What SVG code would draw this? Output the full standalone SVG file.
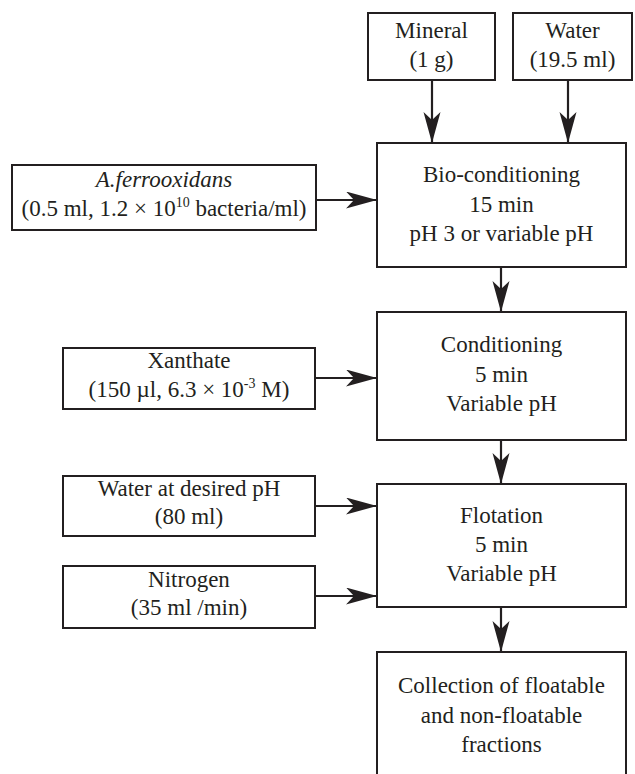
<svg xmlns="http://www.w3.org/2000/svg" width="635" height="774" viewBox="0 0 635 774">
<style>
.box{fill:#fff;stroke:#231f20;stroke-width:2}
.t{font-size:23px;fill:#231f20;text-anchor:middle}
.sup{font-size:14px}
.conn{stroke:#231f20;stroke-width:2.2;fill:none}
</style>
<defs>
<marker id="ah" markerUnits="userSpaceOnUse" markerWidth="32" markerHeight="18" refX="31" refY="8.5" orient="auto">
<path d="M0,0 L31,8.5 L0,17 L8,8.5 Z" fill="#231f20"/>
</marker>
</defs>
<rect width="635" height="774" fill="#fff"/>
<g id="connectors">
<line class="conn" x1="432" y1="80" x2="432" y2="143" marker-end="url(#ah)"/>
<line class="conn" x1="568" y1="80" x2="568" y2="143" marker-end="url(#ah)"/>
<line class="conn" x1="316" y1="200" x2="377" y2="200" marker-end="url(#ah)"/>
<line class="conn" x1="501" y1="267" x2="501" y2="312" marker-end="url(#ah)"/>
<line class="conn" x1="315" y1="378" x2="377" y2="378" marker-end="url(#ah)"/>
<line class="conn" x1="501" y1="440" x2="501" y2="484" marker-end="url(#ah)"/>
<line class="conn" x1="315" y1="506" x2="377" y2="506" marker-end="url(#ah)"/>
<line class="conn" x1="315" y1="596" x2="377" y2="596" marker-end="url(#ah)"/>
<line class="conn" x1="501" y1="607" x2="501" y2="652" marker-end="url(#ah)"/>
</g>
<g font-family="Liberation Serif, Times New Roman, serif">
<g id="mineral">
<rect class="box" x="368" y="13" width="127" height="67"/>
<text class="t" x="431.5" y="38">Mineral</text>
<text class="t" x="431.5" y="67">(1 g)</text>
</g>
<g id="water">
<rect class="box" x="513" y="13" width="119" height="67"/>
<text class="t" x="572.5" y="38">Water</text>
<text class="t" x="572.5" y="67">(19.5 ml)</text>
</g>
<g id="bioconditioning">
<rect class="box" x="377" y="143" width="249" height="124"/>
<text class="t" x="501.5" y="182">Bio-conditioning</text>
<text class="t" x="501.5" y="212">15 min</text>
<text class="t" x="501.5" y="241">pH 3 or variable pH</text>
</g>
<g id="aferrooxidans">
<rect class="box" x="12" y="165" width="304" height="65"/>
<text class="t" x="164" y="187" font-style="italic">A.ferrooxidans</text>
<text class="t" x="164" y="216">(0.5 ml, 1.2 × 10<tspan class="sup" dy="-9">10</tspan><tspan dy="9"> bacteria/ml)</tspan></text>
</g>
<g id="conditioning">
<rect class="box" x="377" y="312" width="249" height="128"/>
<text class="t" x="501.5" y="352">Conditioning</text>
<text class="t" x="501.5" y="382">5 min</text>
<text class="t" x="501.5" y="411">Variable pH</text>
</g>
<g id="xanthate">
<rect class="box" x="63" y="348" width="252" height="61"/>
<text class="t" x="189" y="368">Xanthate</text>
<text class="t" x="189" y="397">(150 µl, 6.3 × 10<tspan class="sup" dy="-9">-3</tspan><tspan dy="9"> M)</tspan></text>
</g>
<g id="flotation">
<rect class="box" x="377" y="484" width="249" height="123"/>
<text class="t" x="501.5" y="523">Flotation</text>
<text class="t" x="501.5" y="552">5 min</text>
<text class="t" x="501.5" y="581">Variable pH</text>
</g>
<g id="waterph">
<rect class="box" x="63" y="476" width="252" height="60"/>
<text class="t" x="189" y="496">Water at desired pH</text>
<text class="t" x="189" y="524">(80 ml)</text>
</g>
<g id="nitrogen">
<rect class="box" x="63" y="566" width="252" height="62"/>
<text class="t" x="189" y="587">Nitrogen</text>
<text class="t" x="189" y="615">(35 ml /min)</text>
</g>
<g id="collection">
<rect class="box" x="377" y="652" width="249" height="140"/>
<text class="t" x="501.5" y="693">Collection of floatable</text>
<text class="t" x="501.5" y="723">and non-floatable</text>
<text class="t" x="501.5" y="752">fractions</text>
</g>
</g>
</svg>
